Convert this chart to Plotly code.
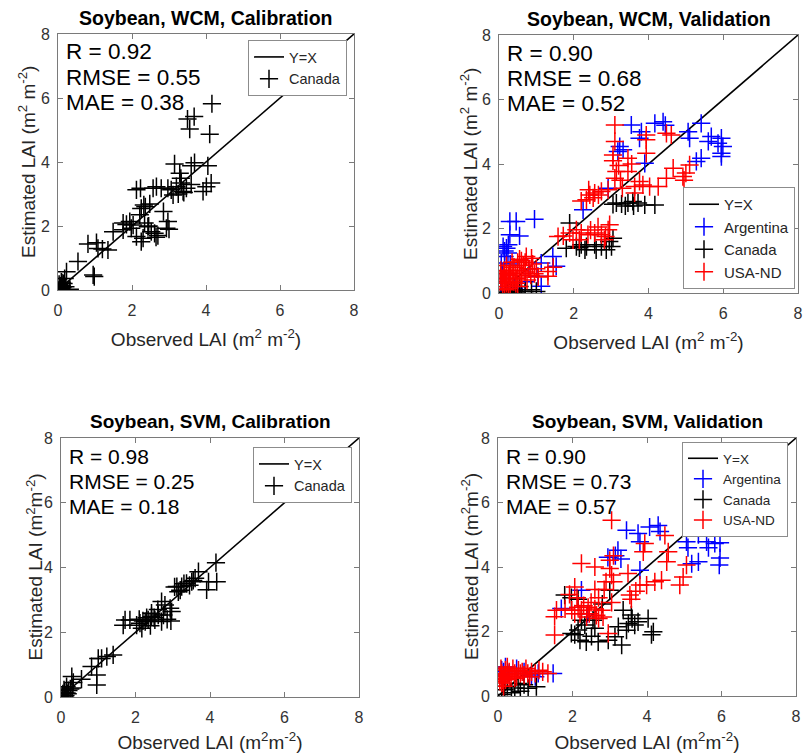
import plotly.graph_objects as go

# ---------------- data (observed, estimated) ----------------
wcm_cal_canada = [
    (4.16, 5.82), (3.50, 5.34), (3.68, 5.42), (3.56, 5.03), (4.10, 4.87), (3.15, 3.94), (3.60, 3.88),
    (3.69, 3.98), (4.05, 3.88), (3.29, 3.65), (3.32, 3.49), (4.14, 3.34), (4.01, 3.23), (3.92, 3.08),
    (3.60, 3.30), (3.47, 3.18), (3.38, 3.08), (3.20, 3.23), (3.06, 3.13), (2.97, 3.18), (3.11, 2.97),
    (3.33, 3.34), (2.66, 3.23), (2.57, 3.18), (2.79, 3.18), (2.12, 3.13), (2.23, 3.18), (2.32, 2.66),
    (2.25, 2.55), (2.36, 2.60), (2.48, 2.69), (2.21, 2.35), (1.76, 2.09), (1.94, 2.14), (2.03, 2.03),
    (1.98, 1.93), (2.34, 2.09), (2.43, 1.98), (2.52, 1.82), (2.97, 2.14), (2.93, 1.93), (2.61, 1.77),
    (2.70, 1.70), (2.12, 1.67), (2.30, 1.62), (2.25, 1.51), (1.76, 1.88), (1.49, 1.82), (0.81, 1.44),
    (1.04, 1.48), (1.08, 1.30), (1.35, 1.25), (1.20, 1.28), (0.54, 0.89), (0.95, 0.47), (0.98, 0.42),
    (0.23, 0.57), (0.18, 0.36), (0.32, 0.02), (0.05, 0.10), (0.08, 0.05), (0.10, 0.15), (0.12, 0.08),
    (0.15, 0.20), (0.06, 0.12), (0.09, 0.25), (0.14, 0.00), (0.20, 0.10), (0.03, 0.18), (0.11, 0.22),
    (3.40, 3.05), (3.25, 3.00), (2.85, 2.45), (2.45, 2.00), (1.85, 2.05), (2.65, 1.65), (3.00, 1.90),
]

wcm_val_argentina = [
    (3.54, 5.21), (4.17, 5.26), (4.39, 5.31), (4.45, 5.20), (3.81, 5.00), (3.76, 4.80), (5.41, 5.26),
    (5.06, 5.00), (5.10, 4.80), (5.68, 4.85), (5.86, 4.64), (5.60, 4.70), (5.95, 4.80), (5.99, 4.54),
    (5.95, 4.33), (5.95, 4.23), (5.41, 4.18), (5.28, 4.08), (3.23, 4.54), (3.32, 4.44), (3.18, 4.39),
    (3.90, 4.02), (2.92, 3.25), (2.25, 2.58), (0.29, 2.22), (0.46, 2.22), (0.95, 2.29), (0.55, 1.77),
    (0.29, 1.81), (0.11, 1.44), (0.20, 1.39), (0.24, 1.24), (0.15, 1.13), (0.06, 0.93), (1.53, 0.83),
    (1.44, 1.13), (1.13, 0.93), (1.04, 0.52), (1.13, 0.21), (0.10, 0.60), (0.20, 0.45), (0.05, 0.30),
    (0.30, 0.90), (0.15, 1.30), (0.25, 1.50), (0.80, 0.75), (0.70, 0.35), (0.40, 0.15),
]
wcm_val_canada = [
    (3.14, 2.79), (3.28, 2.76), (3.45, 2.79), (3.58, 2.84), (3.72, 2.79), (3.90, 2.73), (4.17, 2.73),
    (3.38, 2.70), (3.60, 2.70), (3.05, 2.75), (1.89, 2.17), (1.80, 1.39), (2.07, 1.44), (2.20, 1.50),
    (2.34, 1.44), (2.56, 1.50), (2.74, 1.44), (2.87, 1.34), (3.01, 1.44), (3.05, 1.70), (2.60, 1.34),
    (2.30, 1.34), (2.15, 1.40), (2.95, 1.60), (0.33, 0.05), (0.60, 0.10), (0.87, 0.10), (1.00, 0.05),
    (0.47, 0.00), (0.20, 0.02), (0.70, 0.05), (0.25, 0.10), (0.55, 0.20), (0.40, 0.08),
]
wcm_val_usa = [
    (3.10, 5.21), (3.10, 4.70), (3.05, 4.28), (3.05, 4.10), (3.20, 3.95), (3.14, 3.77), (3.10, 3.56),
    (3.25, 3.50), (3.45, 4.18), (3.55, 4.00), (3.45, 3.77), (3.94, 4.90), (3.94, 4.33), (3.94, 4.75),
    (4.48, 4.95), (4.61, 4.90), (3.76, 3.46), (3.85, 3.35), (4.03, 3.30), (4.26, 3.30), (4.48, 3.56),
    (4.66, 3.87), (4.92, 3.61), (5.00, 3.72), (5.10, 3.97), (4.95, 3.50), (3.63, 3.30), (3.63, 3.10),
    (3.30, 3.25), (2.92, 3.20), (2.74, 3.15), (2.56, 3.10), (2.43, 3.04), (2.34, 2.89), (2.52, 2.95),
    (2.66, 3.04), (2.40, 3.20), (2.20, 2.85), (1.58, 1.75), (1.72, 1.77), (1.89, 1.86), (2.07, 1.96),
    (2.20, 1.86), (2.38, 1.81), (2.56, 1.86), (2.74, 1.81), (2.92, 1.96), (2.96, 2.12), (2.82, 1.65),
    (2.15, 1.65), (1.98, 1.65), (2.45, 1.95), (2.65, 2.05), (2.85, 1.75), (1.45, 0.80), (1.31, 0.67),
    (1.31, 0.52), (0.87, 1.08), (0.73, 1.13), (0.05, 0.50), (0.10, 0.40), (0.15, 0.60), (0.20, 0.30),
    (0.25, 0.55), (0.30, 0.70), (0.35, 0.45), (0.40, 0.80), (0.45, 0.60), (0.50, 0.95), (0.55, 0.70),
    (0.60, 0.50), (0.65, 0.85), (0.70, 0.65), (0.75, 0.40), (0.80, 0.75), (0.85, 0.55), (0.90, 0.90),
    (0.95, 0.60), (1.00, 0.75), (1.05, 0.50), (0.10, 0.20), (0.15, 0.10), (0.05, 0.70), (0.20, 0.85),
    (0.30, 0.25), (0.40, 0.35), (0.50, 0.20), (0.60, 1.00), (0.35, 0.95), (0.25, 0.15), (0.08, 0.35),
    (0.12, 0.65), (0.45, 0.30), (0.55, 1.05), (0.70, 0.95), (0.18, 0.45), (0.28, 0.62), (0.38, 0.55),
    (0.48, 0.45),
]

svm_cal_canada = [
    (4.16, 4.15), (3.96, 3.56), (4.18, 3.56), (3.91, 3.31), (3.69, 3.87), (3.60, 3.67), (3.51, 3.56),
    (3.37, 3.51), (3.24, 3.41), (3.11, 3.41), (3.15, 3.25), (3.30, 3.50), (3.45, 3.45), (3.55, 3.60),
    (3.05, 3.40), (3.20, 3.30), (2.70, 2.95), (2.79, 2.84), (2.93, 2.74), (2.97, 2.64), (2.75, 2.53),
    (2.61, 2.53), (2.43, 2.48), (2.34, 2.38), (2.26, 2.33), (2.12, 2.28), (2.03, 2.22), (1.85, 2.38),
    (1.72, 2.38), (1.67, 2.22), (2.17, 2.12), (2.50, 2.45), (2.52, 2.38), (2.70, 2.33), (2.85, 2.40),
    (2.43, 2.59), (2.30, 2.45), (2.20, 2.35), (2.10, 2.40), (2.60, 2.70), (2.95, 2.35), (2.40, 2.20),
    (1.40, 1.30), (1.23, 1.25), (1.09, 1.19), (1.00, 1.19), (0.82, 0.94), (0.96, 0.68), (0.96, 0.37),
    (0.29, 0.63), (0.33, 0.45), (0.15, 0.32), (0.05, 0.10), (0.10, 0.15), (0.12, 0.05), (0.20, 0.20),
    (0.08, 0.22), (0.15, 0.12), (0.25, 0.25), (0.03, 0.05), (0.10, 0.00), (0.18, 0.10), (0.55, 0.55),
    (0.30, 0.28),
]

svm_val_argentina = [
    (3.45, 5.14), (3.76, 5.04), (4.07, 5.24), (4.30, 5.29), (4.35, 5.10), (3.81, 4.78), (5.06, 4.78),
    (5.10, 4.60), (5.38, 5.00), (5.60, 4.78), (5.65, 4.60), (5.82, 4.73), (5.96, 4.75), (5.96, 4.28),
    (5.94, 4.06), (5.38, 4.16), (5.20, 4.10), (3.22, 4.52), (3.15, 4.35), (3.30, 4.25), (3.81, 3.90),
    (2.95, 4.30), (2.24, 3.28), (1.70, 2.71), (2.40, 2.55), (1.48, 0.70), (1.08, 0.70), (1.00, 0.60),
    (0.10, 0.80), (0.20, 0.90), (0.50, 0.85), (0.70, 0.75), (0.90, 0.65), (0.30, 0.70), (0.05, 0.65),
    (0.15, 0.75),
]
svm_val_canada = [
    (1.79, 3.13), (1.97, 3.05), (2.15, 3.00), (3.00, 3.28), (2.80, 2.85), (3.36, 2.66), (3.58, 2.51),
    (3.76, 2.30), (4.03, 2.40), (4.17, 1.99), (4.12, 1.90), (3.67, 2.20), (3.45, 2.04), (3.23, 2.15),
    (3.14, 1.84), (3.32, 1.58), (2.96, 1.73), (2.69, 1.68), (2.51, 1.85), (2.37, 1.68), (2.20, 1.73),
    (2.15, 2.05), (2.06, 1.90), (2.33, 2.20), (2.60, 2.10), (2.24, 2.35), (2.55, 2.35), (1.97, 1.94),
    (3.50, 2.25), (3.60, 2.40), (0.54, 0.39), (0.81, 0.24), (1.03, 0.29), (0.18, 0.19), (0.36, 0.10),
    (0.60, 0.15), (0.10, 0.05), (0.25, 0.30), (0.45, 0.25), (0.70, 0.35),
]
svm_val_usa = [
    (3.05, 5.45), (4.48, 4.98), (3.94, 4.73), (3.90, 4.47), (4.57, 4.47), (4.53, 4.16), (5.06, 4.06),
    (4.97, 3.69), (4.88, 3.44), (4.39, 3.59), (4.21, 3.54), (3.99, 3.44), (3.81, 3.44), (3.70, 3.25),
    (3.54, 3.13), (3.58, 3.00), (3.49, 3.80), (3.00, 4.21), (3.10, 4.35), (3.00, 3.95), (3.05, 3.75),
    (3.10, 3.54), (2.90, 3.54), (2.85, 3.30), (2.60, 4.00), (2.24, 4.11), (2.06, 3.38), (1.92, 3.15),
    (2.12, 3.05), (1.57, 2.66), (1.52, 2.46), (1.80, 2.70), (1.98, 2.66), (2.06, 2.55), (2.24, 2.66),
    (2.42, 2.75), (2.60, 2.70), (2.78, 2.66), (2.82, 2.45), (2.64, 2.50), (2.38, 2.45), (2.20, 2.55),
    (1.52, 1.89), (2.96, 1.94), (2.60, 3.30), (2.70, 3.05), (2.50, 2.90), (3.05, 2.90), (2.30, 2.80),
    (2.45, 2.55), (2.70, 2.40), (2.15, 2.75), (0.05, 0.60), (0.10, 0.70), (0.15, 0.55), (0.20, 0.80),
    (0.25, 0.65), (0.30, 0.75), (0.35, 0.60), (0.40, 0.85), (0.45, 0.70), (0.50, 0.60), (0.55, 0.80),
    (0.60, 0.70), (0.65, 0.75), (0.70, 0.65), (0.75, 0.85), (0.80, 0.70), (0.85, 0.60), (0.90, 0.75),
    (1.00, 0.70), (1.10, 0.80), (1.20, 0.75), (1.34, 0.70), (0.10, 0.40), (0.15, 0.30), (0.20, 0.50),
    (0.08, 0.85), (0.12, 0.50), (0.25, 0.90), (0.05, 0.45), (0.18, 0.65), (0.30, 0.55), (0.45, 0.55),
]

one_to_one = [0, 8]
tick_vals = [0, 2, 4, 6, 8]

panel_titles = ["Soybean, WCM, Calibration", "Soybean, WCM, Validation",
                "Soybean, SVM, Calibration", "Soybean, SVM, Validation"]
panel_stats = [["R = 0.92", "RMSE = 0.55", "MAE = 0.38"],
               ["R = 0.90", "RMSE = 0.68", "MAE = 0.52"],
               ["R = 0.98", "RMSE = 0.25", "MAE = 0.18"],
               ["R = 0.90", "RMSE = 0.73", "MAE = 0.57"]]
xlabel_top = "Observed LAI (m<sup>2</sup> m<sup>-2</sup>)"
ylabel_top = "Estimated LAI (m<sup>2</sup> m<sup>-2</sup>)"
xlabel_bot = "Observed LAI (m<sup>2</sup>m<sup>-2</sup>)"
ylabel_bot = "Estimated LAI (m<sup>2</sup>m<sup>-2</sup>)"

BLUE, BLACK, RED = "#0000ff", "#000000", "#ff0000"
FONT = "Liberation Sans, Arial, Helvetica, sans-serif"
W, H = 803, 753

# plot-area boxes in pixels: (left, right, top, bottom)
boxes = [(58, 354, 34, 290), (499, 798, 35, 293), (61, 359, 438, 697), (498, 796, 438, 696)]
ytitle_x = [27, 469, 34, 470]

panels = [
    [("Canada", BLACK, wcm_cal_canada)],
    [("Argentina", BLUE, wcm_val_argentina), ("Canada", BLACK, wcm_val_canada), ("USA-ND", RED, wcm_val_usa)],
    [("Canada", BLACK, svm_cal_canada)],
    [("Argentina", BLUE, svm_val_argentina), ("Canada", BLACK, svm_val_canada), ("USA-ND", RED, svm_val_usa)],
]

fig = go.Figure()
legend_names = ["legend", "legend2", "legend3", "legend4"]

for i, series in enumerate(panels):
    sfx = "" if i == 0 else str(i + 1)
    xa, ya = "x" + sfx, "y" + sfx
    fig.add_trace(go.Scatter(x=one_to_one, y=one_to_one, mode="lines", name="Y=X",
                             line=dict(color="black", width=1.6), xaxis=xa, yaxis=ya,
                             legend=legend_names[i]))
    for name, col, pts in series:
        fig.add_trace(go.Scatter(
            x=[p[0] for p in pts], y=[p[1] for p in pts], mode="markers", name=name,
            marker=dict(symbol="cross-thin", size=13, color=col, line=dict(width=1.5, color=col)),
            xaxis=xa, yaxis=ya, legend=legend_names[i]))

layout = dict(width=W, height=H, margin=dict(l=0, r=0, t=0, b=0),
              paper_bgcolor="white", plot_bgcolor="white", showlegend=True,
              font=dict(family=FONT, color="#262626"))

axis_common = dict(range=[0, 8], tickvals=tick_vals, showgrid=False, zeroline=False,
                   showline=True, linecolor="#7a7a7a", linewidth=1, mirror="ticks",
                   ticks="inside", ticklen=5, tickcolor="#7a7a7a", automargin=False,
                   tickfont=dict(size=16, color="#333333", family=FONT))

annotations = []
for i, (l, r, t, b) in enumerate(boxes):
    sfx = "" if i == 0 else str(i + 1)
    top = i < 2
    layout["xaxis" + sfx] = dict(axis_common, domain=[l / W, r / W], anchor="y" + sfx,
                                 ticklabelstandoff=6,
                                 title=dict(text=xlabel_top if top else xlabel_bot,
                                            font=dict(size=19, color="#262626"),
                                            standoff=14 if top else 11))
    layout["yaxis" + sfx] = dict(axis_common, domain=[1 - b / H, 1 - t / H], anchor="x" + sfx,
                                 ticklabelstandoff=4)
    # y-axis title
    annotations.append(dict(text=ylabel_top if top else ylabel_bot, xref="paper", yref="paper",
                            x=ytitle_x[i] / W, y=1 - (t + b) / 2 / H, textangle=-90,
                            showarrow=False, xanchor="center", yanchor="middle",
                            font=dict(size=19, color="#262626", family=FONT)))
    # panel title
    annotations.append(dict(text="<b>" + panel_titles[i] + "</b>", xref="paper", yref="paper",
                            x=(l + r) / 2 / W, y=1 - (t - 16) / H, showarrow=False,
                            xanchor="center", yanchor="middle",
                            font=dict(size=19.5 if top else 19, color="black", family=FONT)))
    # stats
    for k, txt in enumerate(panel_stats[i]):
        annotations.append(dict(text=txt, xref="paper", yref="paper",
                                x=(l + 6) / W, y=1 - (t + 18 + 25.5 * k) / H, showarrow=False,
                                xanchor="left", yanchor="middle",
                                font=dict(size=22.5 if top else 21, color="black", family=FONT)))

layout["annotations"] = annotations

leg_common = dict(bgcolor="white", bordercolor="#8c8c8c", borderwidth=1, itemwidth=30,
                  xanchor="right", tracegroupgap=0)
layout["legend"] = dict(leg_common, x=347 / W, y=1 - 40 / H, yanchor="top",
                        font=dict(size=14.5, color="#262626"))
layout["legend2"] = dict(leg_common, x=795 / W, y=1 - 289 / H, yanchor="bottom",
                         font=dict(size=15, color="#262626"))
layout["legend3"] = dict(leg_common, x=352 / W, y=1 - 447 / H, yanchor="top",
                         font=dict(size=14.5, color="#262626"))
layout["legend4"] = dict(leg_common, x=788 / W, y=1 - 442 / H, yanchor="top",
                         font=dict(size=13.5, color="#262626"))

fig.update_layout(**layout)
fig.write_html("out.html", config={"displayModeBar": False},
               post_script="document.body.style.margin='0';")
